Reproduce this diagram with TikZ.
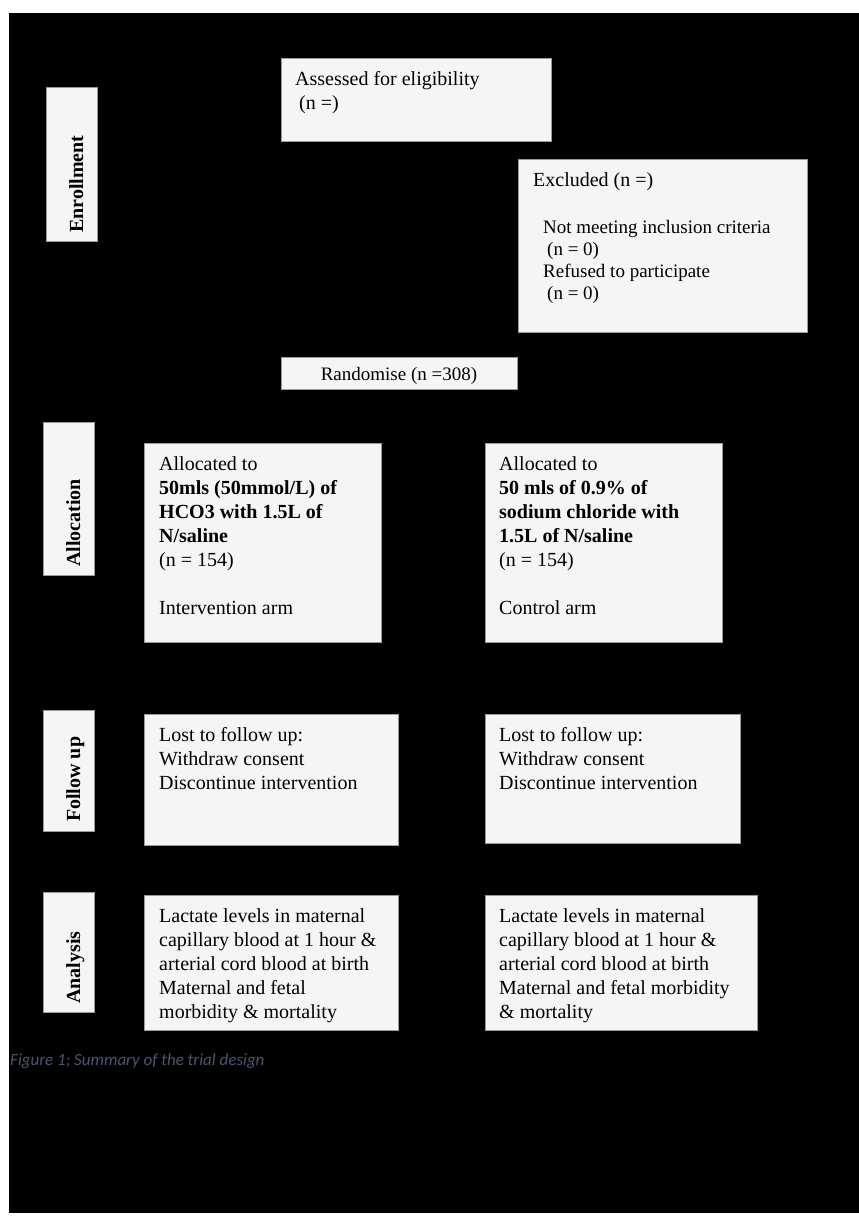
\documentclass[tikz,border=0pt]{standalone}
\usepackage{fontspec}
\setmainfont{Liberation Serif}
\newfontfamily\capfont{Carlito}
\definecolor{boxfill}{HTML}{F5F5F5}
\definecolor{boxline}{HTML}{9A9A9A}
\definecolor{capcol}{HTML}{4A5670}
\begin{document}
\begin{tikzpicture}[x=1pt,y=-1pt,
  box/.style={draw=boxline, line width=0.7pt, fill=boxfill, anchor=north west, inner sep=0pt},
  txt/.style={anchor=base west, inner sep=0pt, font=\fontsize{20}{24}\selectfont},
  smalltxt/.style={anchor=base west, inner sep=0pt, font=\fontsize{19}{22}\selectfont},
  phase/.style={anchor=base west, inner sep=0pt, rotate=90, font=\fontsize{20}{24}\selectfont\bfseries}
]
\useasboundingbox (0,0) rectangle (859,1216);
\fill[white] (0,0) rectangle (859,1216);
\fill[black] (9,13) rectangle (859,1213);

% phase labels
\node[box, minimum width=51pt, minimum height=154pt] (enrollbox) at (46,87) {};
\node[phase] (enrolltxt) at (83,233) {Enrollment};
\node[box, minimum width=51pt, minimum height=153pt] (allocbox) at (43,422) {};
\node[phase] (alloctxt) at (80,567) {Allocation};
\node[box, minimum width=51pt, minimum height=121pt] (fubox) at (43,710) {};
\node[phase] (futxt) at (80,822) {Follow up};
\node[box, minimum width=51pt, minimum height=120pt] (anbox) at (43,892) {};
\node[phase] (antxt) at (80,1004) {Analysis};

% enrollment
\node[box, minimum width=270pt, minimum height=83pt] (assess) at (281,58) {};
\node[txt] (assesstxt) at (295,85) {\parbox[t]{250pt}{Assessed for eligibility\\\hspace*{4pt}(n =)}};

\node[box, minimum width=289pt, minimum height=173pt] (excl) at (518,159) {};
\node[txt] (excltitle) at (533,186) {Excluded (n =)};
\node[smalltxt] (excllist) at (543,233) {\parbox[t]{250pt}{Not meeting inclusion criteria\\\hspace*{4pt}(n = 0)\\Refused to participate\\\hspace*{4pt}(n = 0)}};

\node[box, minimum width=236pt, minimum height=32pt] (rand) at (281,357) {};
\node[smalltxt, anchor=base] (randtxt) at (399,380) {Randomise (n =308)};

% allocation
\node[box, minimum width=237pt, minimum height=199pt] (allocL) at (144,443) {};
\node[txt] (allocLtxt) at (159,470) {\parbox[t]{220pt}{Allocated to\\\textbf{50mls (50mmol/L) of}\\\textbf{HCO3 with 1.5L of}\\\textbf{N/saline}\\(n = 154)\\[24pt]Intervention arm}};
\node[box, minimum width=237pt, minimum height=199pt] (allocR) at (485,443) {};
\node[txt] (allocRtxt) at (499,470) {\parbox[t]{220pt}{Allocated to\\\textbf{50 mls of 0.9\% of}\\\textbf{sodium chloride with}\\\textbf{1.5L of N/saline}\\(n = 154)\\[24pt]Control arm}};

% follow up
\node[box, minimum width=254pt, minimum height=131pt] (fuL) at (144,714) {};
\node[txt] (fuLtxt) at (159,741) {\parbox[t]{235pt}{Lost to follow up:\\Withdraw consent\\Discontinue intervention}};
\node[box, minimum width=255pt, minimum height=129pt] (fuR) at (485,714) {};
\node[txt] (fuRtxt) at (499,741) {\parbox[t]{235pt}{Lost to follow up:\\Withdraw consent\\Discontinue intervention}};

% analysis
\node[box, minimum width=254pt, minimum height=135pt] (anL) at (144,895) {};
\node[txt] (anLtxt) at (159,922) {\parbox[t]{235pt}{Lactate levels in maternal\\capillary blood at 1 hour \&\\arterial cord blood at birth\\Maternal and fetal\\morbidity \& mortality}};
\node[box, minimum width=272pt, minimum height=135pt] (anR) at (485,895) {};
\node[txt] (anRtxt) at (499,922) {\parbox[t]{255pt}{Lactate levels in maternal\\capillary blood at 1 hour \&\\arterial cord blood at birth\\Maternal and fetal morbidity\\\& mortality}};

% caption
\node[anchor=base west, inner sep=0pt, text=capcol, font=\capfont\itshape\fontsize{17}{20}\selectfont] (caption) at (10,1065) {Figure 1; Summary of the trial design};
\end{tikzpicture}
\end{document}
